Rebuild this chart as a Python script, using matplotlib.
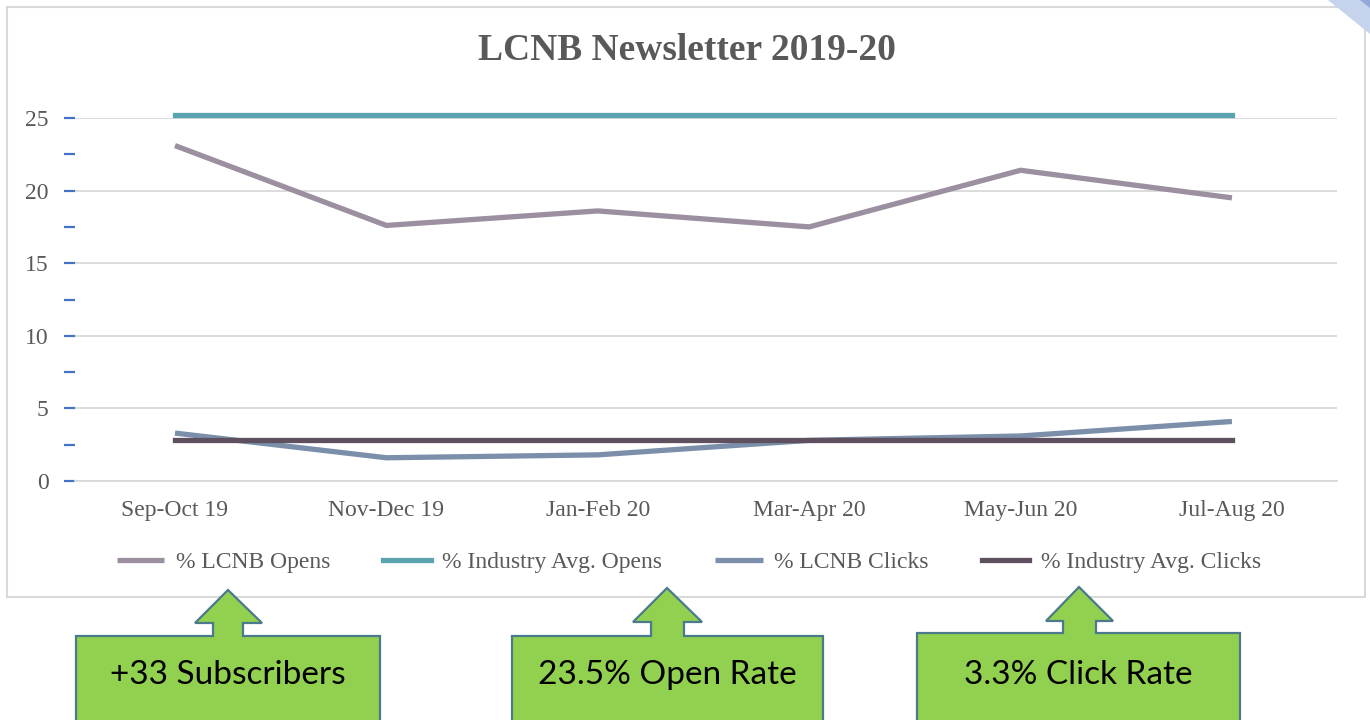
import matplotlib.pyplot as plt
from matplotlib.patches import Polygon, Rectangle
from matplotlib.ticker import MultipleLocator

# Data
periods = ['Sep-Oct 19', 'Nov-Dec 19', 'Jan-Feb 20', 'Mar-Apr 20', 'May-Jun 20', 'Jul-Aug 20']
lcnb_opens = [23.1, 17.6, 18.6, 17.5, 21.4, 19.5]
industry_opens = [25.2, 25.2, 25.2, 25.2, 25.2, 25.2]
lcnb_clicks = [3.3, 1.6, 1.8, 2.8, 3.1, 4.1]
industry_clicks = [2.8, 2.8, 2.8, 2.8, 2.8, 2.8]

callout_texts = ['+33 Subscribers', '23.5% Open Rate', '3.3% Click Rate']

W, H = 1370, 720
fig = plt.figure(figsize=(W / 100, H / 100), dpi=100)
fig.patch.set_facecolor('white')


def fx(x):
    return x / W


def fy(y):
    return 1 - y / H


# chart frame
fig.patches.append(Rectangle((fx(7), fy(597)), fx(1365 - 7), (597 - 7) / H,
                             transform=fig.transFigure, fill=False,
                             edgecolor='#D9D9D9', linewidth=1.5))

# corner decoration (top right)
fig.patches.append(Polygon([(fx(1328), 1), (1, 1), (1, fy(34))], closed=True,
                           transform=fig.transFigure, facecolor='#C5D3EC', edgecolor='none'))
fig.patches.append(Polygon([(fx(1360), 1), (1, 1), (1, fy(8))], closed=True,
                           transform=fig.transFigure, facecolor='#8FA9D8', edgecolor='none'))

ax = fig.add_axes([fx(75), fy(481), fx(1337 - 75), (481 - 118) / H])
x = list(range(len(periods)))

serif = 'Liberation Serif'
grey = '#595959'

l1, = ax.plot(x, lcnb_opens, color='#9B8FA0', lw=3.8, solid_capstyle='butt', clip_on=False, zorder=3)
l2, = ax.plot(x, industry_opens, color='#5BA3AE', lw=3.8, solid_capstyle='projecting', clip_on=False, zorder=3)
l3, = ax.plot(x, lcnb_clicks, color='#7B8FAA', lw=3.8, solid_capstyle='butt', clip_on=False, zorder=3)
l4, = ax.plot(x, industry_clicks, color='#5F5060', lw=3.8, solid_capstyle='projecting', clip_on=False, zorder=3)

ax.set_xlim(-0.473, 5.497)
ax.set_ylim(0, 25)
ax.yaxis.set_major_locator(MultipleLocator(5))
ax.yaxis.set_minor_locator(MultipleLocator(2.5))
ax.grid(axis='y', color='#D9D9D9', lw=1.3)
ax.set_axisbelow(True)
for s in ['top', 'right', 'left']:
    ax.spines[s].set_visible(False)
ax.spines['bottom'].set_color('#D9D9D9')
ax.spines['bottom'].set_linewidth(1.3)

ax.set_xticks(x)
ax.set_xticklabels(periods, fontfamily=serif, fontsize=17, color=grey)
ax.tick_params(axis='x', length=0, pad=14)
ax.tick_params(axis='y', which='both', direction='out', length=8, width=1.6,
               color='#4472C4', labelsize=17, labelcolor=grey, pad=11)
for lab in ax.get_yticklabels():
    lab.set_fontfamily(serif)

fig.text(fx(687), fy(50), 'LCNB Newsletter 2019-20', ha='center', va='center',
         fontfamily=serif, fontsize=27, fontweight='bold', color=grey)

leg = fig.legend([l1, l2, l3, l4],
                 ['% LCNB Opens', '% Industry Avg. Opens', '% LCNB Clicks', '% Industry Avg. Clicks'],
                 loc='center', bbox_to_anchor=(fx(689), fy(562)), ncol=4, frameon=False,
                 prop={'family': serif, 'size': 17}, handlelength=2.0,
                 handletextpad=0.5, columnspacing=2.25)
for t in leg.get_texts():
    t.set_color(grey)

# green arrow callouts below the chart
boxes = [
    (76, 380, 636, 228, 195, 262, 213, 243, 623, 590),
    (512, 823, 636, 667, 633, 702, 651, 684, 622, 588),
    (917, 1240, 633, 1079, 1046, 1113, 1063, 1096, 621, 587),
]
for (bl, br, bt, ax_, hl, hr, sl, sr, hb, ap), txt in zip(boxes, callout_texts):
    pts = [(bl, bt), (sl, bt), (sl, hb), (hl, hb), (ax_, ap), (hr, hb), (sr, hb),
           (sr, bt), (br, bt), (br, 740), (bl, 740)]
    fig.patches.append(Polygon([(fx(px), fy(py)) for px, py in pts], closed=True,
                               transform=fig.transFigure, facecolor='#92D050',
                               edgecolor='#4A7A8C', linewidth=1.6))
    fig.text(fx((bl + br) / 2), fy(675), txt, ha='center', va='center',
             fontfamily='Lato', fontsize=24, color='black')

fig.savefig('out.png', dpi=100)
